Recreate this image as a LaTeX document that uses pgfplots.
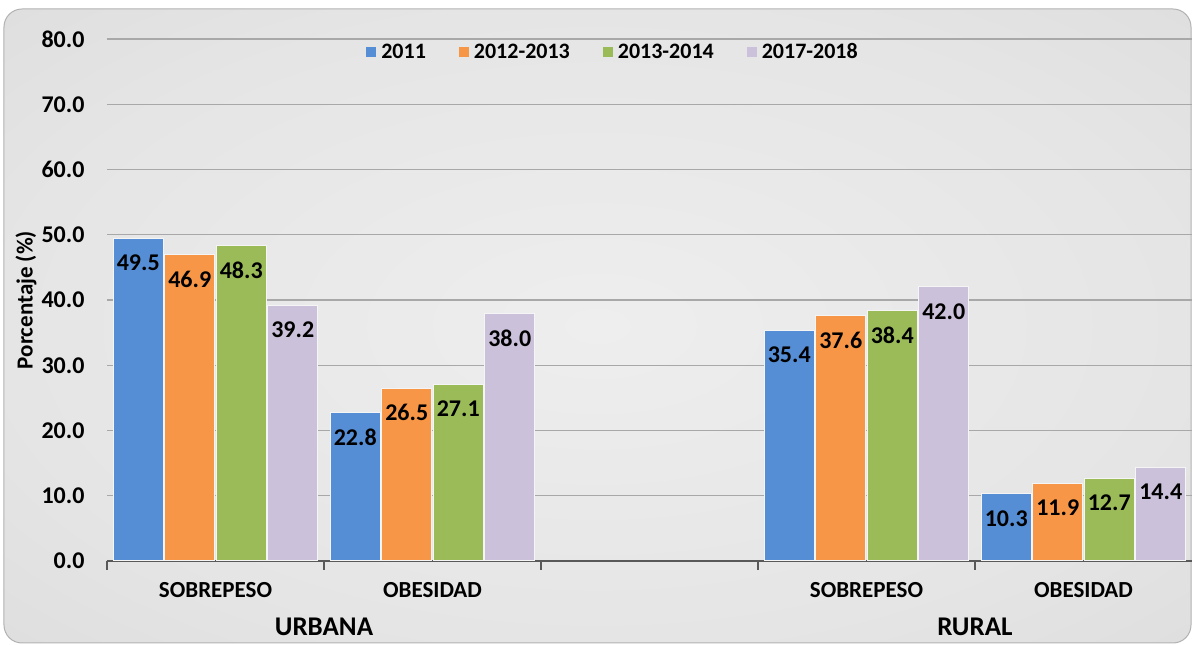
\documentclass[border=0pt]{standalone}
\usepackage{fontspec}
\setmainfont{Carlito}
\usepackage{pgfplots}
\pgfplotsset{compat=1.18}
\definecolor{cBlue}{HTML}{558ED5}
\definecolor{cOrange}{HTML}{F79646}
\definecolor{cGreen}{HTML}{9BBB59}
\definecolor{cLav}{HTML}{CCC1DA}
\definecolor{axisgray}{HTML}{595959}
\definecolor{bgA}{HTML}{EEEEEE}
\definecolor{bgB}{HTML}{E5E5E5}
\definecolor{bgC}{HTML}{D6D6D6}
\definecolor{bgD}{HTML}{C6C6C6}
\pgfdeclareradialshading{bgshade}{\pgfpoint{0bp}{0bp}}{color(0bp)=(bgA); color(25bp)=(bgB); color(50bp)=(bgC); color(71bp)=(bgD)}
\newcommand\fs[1]{\fontsize{#1}{#1}\selectfont\bfseries}
\begin{document}
\begin{tikzpicture}
\useasboundingbox (-107pt,-84pt) rectangle (1085pt,561pt);
\shade[shading=bgshade, draw=gray!60, line width=1pt, rounded corners=18pt] (-103pt,-82pt) rectangle (1084pt,552pt);
\begin{axis}[
  at={(0pt,0pt)}, anchor=south west,
  scale only axis, width=1085pt, height=522pt,
  xmin=-0.5, xmax=4.5, ymin=0, ymax=80,
  ybar=1.5pt, bar width=50pt,
  clip=false,
  axis x line*=bottom, axis y line*=left,
  x axis line style={draw=axisgray, line width=2.5pt, -},
  y axis line style={draw=none},
  xtick={0,1,3,4},
  xticklabels={SOBREPESO,OBESIDAD,SOBREPESO,OBESIDAD},
  minor xtick={-0.5,0.5,1.5,2.5,3.5},
  major tick length=0pt, minor tick length=9pt, tick align=outside,
  minor tick style={draw=axisgray, line width=2pt},
  ytick={0,10,...,80},
  ytick style={draw=none},
  ymajorgrids,
  major grid style={draw=gray!68, line width=1.3pt},
  ticklabel style={font=\fs{24}},
  xticklabel style={font=\fs{23}, yshift=-18pt},
  yticklabel style={xshift=-19pt, /pgf/number format/.cd, fixed, fixed zerofill, precision=1, assume math mode=true},
  ylabel={Porcentaje (\%)},
  ylabel style={font=\fs{23}, at={(axis description cs:-0.0747,0.5)}, anchor=center},
  nodes near coords,
  every node near coord/.append style={font=\fs{24}, text=black, anchor=north, inner sep=2pt, yshift=-14pt, /pgf/number format/.cd, fixed, fixed zerofill, precision=1, assume math mode=true},
  legend columns=4,
  legend style={draw=none, fill=none, at={(0.4664,0.975)}, anchor=center, font=\fs{22},
    /tikz/every even column/.append style={column sep=31pt},
    /tikz/every odd column/.append style={column sep=3pt}},
  legend image code/.code={\fill[#1,draw=none] (0pt,-5pt) rectangle (10pt,5pt);},
]
\addplot[fill=cBlue, draw=white!92!gray, line width=1pt] coordinates {(0,49.5) (1,22.8) (3,35.4) (4,10.3)};
\addplot[fill=cOrange, draw=white!92!gray, line width=1pt] coordinates {(0,46.9) (1,26.5) (3,37.6) (4,11.9)};
\addplot[fill=cGreen, draw=white!92!gray, line width=1pt] coordinates {(0,48.3) (1,27.1) (3,38.4) (4,12.7)};
\addplot[fill=cLav, draw=white!92!gray, line width=1pt] coordinates {(0,39.2) (1,38.0) (3,42.0) (4,14.4)};
\legend{2011,2012-2013,2013-2014,2017-2018}
\node[font=\fs{27}, yshift=-66pt] at (axis cs:0.5,0) {URBANA};
\node[font=\fs{27}, yshift=-66pt] at (axis cs:3.5,0) {RURAL};
\end{axis}
\end{tikzpicture}
\end{document}
